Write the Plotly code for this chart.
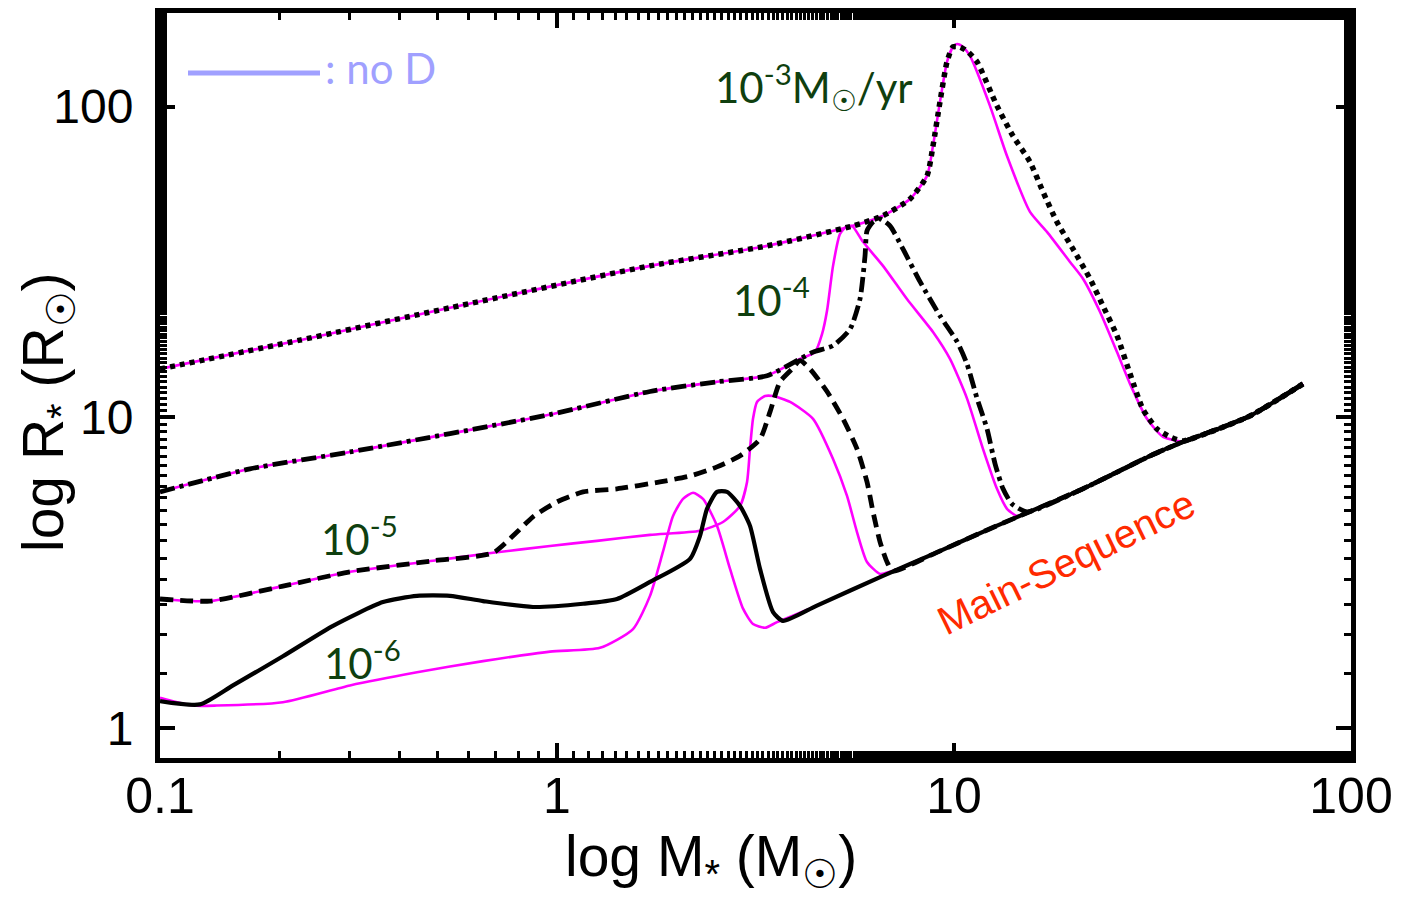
import math
import plotly.graph_objects as go

# ---------------- data ----------------
# Main-sequence (shared by all tracks)
ms_m = [3.65, 4.5, 6.6, 9.0, 12.8, 15.5, 21.1, 31.2, 37.7, 45.0, 55.7, 75.7]
ms_r = [2.21, 2.47, 3.08, 3.66, 4.47, 4.96, 5.88, 7.51, 8.33, 9.04, 10.1, 12.8]

# 1e-3 Msun/yr, with D (black dotted)
d3_m = [0.1, 0.225, 0.5375, 1.715, 3.381, 5.566, 6.625, 7.747, 8.551, 8.853, 9.219, 9.603,
        9.94, 10.35, 10.85, 11.43, 12.83, 14.08, 15.54, 16.76, 18.17, 19.94, 22.01, 23.73,
        25.74, 27.76, 29.92, 32.46, 35.01, 37.75]
d3_r = [14.3, 17.7, 22.5, 30.7, 35.6, 41.3, 44.5, 50.4, 59.8, 74.7, 103.5, 139.3,
        155.6, 155.6, 149.9, 139.3, 100.5, 80.4, 66.3, 53.1, 42.5, 34.8, 27.9, 22.8,
        18.3, 13.8, 10.6, 9.17, 8.64, 8.39]
# 1e-3, no D (magenta)
n3_m = [0.1, 0.225, 0.5375, 1.715, 3.381, 5.566, 6.625, 7.747, 8.551, 8.853, 9.219, 9.603,
        9.94, 10.18, 10.47, 10.97, 12.32, 13.60, 15.54, 17.15, 19.60, 21.13, 23.33, 25.74,
        27.76, 30.63, 33.61, 36.46]
n3_r = [14.3, 17.7, 22.5, 30.7, 35.6, 41.3, 44.5, 50.4, 59.8, 74.7, 103.5, 139.3,
        155.6, 159.0, 156.7, 145.5, 100.5, 69.3, 45.8, 39.5, 31.6, 27.9, 21.8, 16.2,
        12.8, 9.88, 8.64, 8.39]

# 1e-4, with D (black dash-dot)
d4_m = [0.1, 0.1685, 0.301, 0.96, 1.715, 2.529, 3.381, 4.094, 4.415, 4.958, 5.47, 5.797,
        5.968, 6.038, 6.252, 6.511, 6.9, 7.437, 8.212, 9.219, 10.18, 10.78, 11.43, 12.11,
        12.69, 13.29, 14.0, 15.27]
d4_r = [5.75, 6.82, 7.73, 10.2, 12.1, 13.0, 13.6, 15.4, 16.2, 17.0, 19.2, 24.0,
        33.0, 39.8, 42.5, 43.5, 41.3, 34.8, 27.3, 21.2, 17.5, 14.85, 11.5, 9.17,
        7.08, 5.88, 5.26, 4.96]
# 1e-4, no D
n4_m = [0.1, 0.1685, 0.301, 0.96, 1.715, 2.529, 3.381, 4.094, 4.466, 4.651, 4.788, 4.958,
        5.163, 5.346, 5.534, 5.899, 6.625, 7.612, 8.853, 9.77, 10.78, 11.83, 12.83, 13.60, 14.41]
n4_r = [5.75, 6.82, 7.73, 10.2, 12.1, 13.0, 13.6, 15.4, 16.2, 18.5, 22.0, 30.7,
        38.9, 41.0, 41.3, 36.7, 30.7, 24.0, 18.8, 15.4, 11.5, 7.91, 5.88, 5.07, 4.81]

# 1e-5, with D (black dashed)
d5_m = [0.1, 0.1336, 0.204, 0.301, 0.4871, 0.69, 0.7929, 0.8699, 1.0, 1.163, 1.416, 1.817,
        2.163, 2.529, 2.891, 3.246, 3.44, 3.646, 3.91, 4.094, 4.339, 4.788, 5.254, 5.697,
        6.038, 6.252, 6.511, 6.781, 7.022]
d5_r = [2.60, 2.56, 2.86, 3.18, 3.45, 3.66, 4.27, 4.78, 5.34, 5.75, 5.88, 6.19,
        6.47, 6.92, 7.51, 8.51, 10.4, 13.0, 14.3, 15.2, 14.3, 12.1, 9.88, 7.91,
        6.19, 4.96, 3.97, 3.42, 3.20]
# 1e-5, no D
n5_m = [0.1, 0.1336, 0.204, 0.301, 0.4871, 0.69, 0.96, 1.261, 1.715, 2.292, 2.619, 2.891,
        3.011, 3.063, 3.117, 3.19, 3.342, 3.501, 3.864, 4.415, 4.958, 5.377, 5.697, 6.038,
        6.511, 6.9]
n5_r = [2.60, 2.56, 2.86, 3.18, 3.45, 3.66, 3.85, 4.00, 4.18, 4.31, 4.60, 5.18,
        6.19, 7.91, 9.88, 11.2, 11.7, 11.7, 11.2, 9.88, 7.34, 5.58, 4.27, 3.42,
        3.13, 3.18]

# 1e-6, with D (black solid)
d6_m = [0.1, 0.126, 0.1527, 0.204, 0.2728, 0.3645, 0.444, 0.5375, 0.6512, 0.8699, 1.163,
        1.416, 1.715, 2.163, 2.292, 2.387, 2.529, 2.681, 2.891, 3.063, 3.246, 3.501, 3.71]
d6_r = [1.22, 1.19, 1.37, 1.70, 2.13, 2.54, 2.66, 2.66, 2.56, 2.45, 2.51,
        2.60, 2.95, 3.50, 4.15, 5.07, 5.75, 5.75, 5.18, 4.47, 3.25, 2.36, 2.21]
# 1e-6, no D
n6_m = [0.1, 0.121, 0.139, 0.204, 0.301, 0.444, 0.6512, 0.96, 1.283, 1.554, 1.715, 1.849,
        1.96, 2.077, 2.201, 2.332, 2.529, 2.728, 2.942, 3.117, 3.342, 3.583]
n6_r = [1.25, 1.18, 1.18, 1.21, 1.37, 1.51, 1.64, 1.76, 1.81, 2.08, 2.66, 3.69,
        4.81, 5.46, 5.71, 5.46, 4.47, 3.25, 2.42, 2.16, 2.10, 2.19]

x_tickvals = [0.1, 1, 10, 100]
x_ticktext = ["0.1", "1", "10", "100"]
y_tickvals = [1, 10, 100]
y_ticktext = ["1", "10", "100"]

rate_labels = ["10<sup>-3</sup>M<sub>☉</sub>/yr", "10<sup>-4</sup>", "10<sup>-5</sup>", "10<sup>-6</sup>"]


def with_ms(m, r):
    mm, rr = list(m), list(r)
    for a, b in zip(ms_m, ms_r):
        if a > mm[-1] * 1.02:
            mm.append(a)
            rr.append(b)
    return mm, rr


MAG = "#ff00ff"
fig = go.Figure()

# no-D tracks (magenta)
for m, r in [(n3_m, n3_r), (n4_m, n4_r), (n5_m, n5_r), (n6_m, n6_r)]:
    mm, rr = with_ms(m, r)
    fig.add_trace(go.Scatter(x=mm, y=rr, mode="lines",
                             line=dict(color=MAG, width=2.6, shape="spline", smoothing=0.6),
                             showlegend=False, hoverinfo="skip"))

# with-D tracks (black)
styles = [(d6_m, d6_r, "solid", 4.2),
          (d5_m, d5_r, "13px,7px", 4.8),
          (d4_m, d4_r, "15px,5px,4px,5px", 4.8),
          (d3_m, d3_r, "5px,5px", 5.5)]
for m, r, dash, w in styles:
    mm, rr = with_ms(m, r)
    fig.add_trace(go.Scatter(x=mm, y=rr, mode="lines",
                             line=dict(color="black", width=w, dash=dash, shape="spline", smoothing=0.6),
                             showlegend=False, hoverinfo="skip"))

# invisible trace on the mirror axes (so they get drawn)
fig.add_trace(go.Scatter(x=[1], y=[1], xaxis="x2", yaxis="y2", mode="markers",
                         marker=dict(opacity=0), showlegend=False, hoverinfo="skip"))

# plot area in pixels: x 160..1351, y 13..758
W, H = 1401, 899
L, R, T, B = 160, 1401 - 1351, 13, 899 - 758
pw, ph = W - L - R, H - T - B


def px(xp):
    return (xp - L) / pw


def py(yp):
    return (H - B - yp) / ph


GREEN = "#0f3f0f"
green_font = dict(family="Lato, 'Open Sans', sans-serif", size=42, color=GREEN)
label_pos = [(814, 86), (771, 297), (359, 536), (362, 660)]
for txt, (xp, yp) in zip(rate_labels, label_pos):
    fig.add_annotation(x=px(xp), y=py(yp), xref="paper", yref="paper", text=txt,
                       showarrow=False, xanchor="center", yanchor="middle", font=green_font)

fig.add_annotation(x=px(1066), y=py(562), xref="paper", yref="paper", text="Main-Sequence",
                   showarrow=False, textangle=-26, xanchor="center", yanchor="middle",
                   font=dict(family="Liberation Sans, Arial, sans-serif", size=40, color="#ff2a00"))

# "no D" key
LAV = "#a0a0ff"
fig.add_shape(type="line", xref="paper", yref="paper", x0=px(188), x1=px(320), y0=py(73), y1=py(73),
              line=dict(color=LAV, width=5))
fig.add_annotation(x=px(323), y=py(68), xref="paper", yref="paper", text=": no D", showarrow=False,
                   xanchor="left", yanchor="middle",
                   font=dict(family="Lato, 'Open Sans', sans-serif", size=42, color=LAV))

# axis titles
title_font = dict(family="Liberation Sans, Arial, sans-serif", size=57, color="black")
fig.add_annotation(x=px(711), y=py(860), xref="paper", yref="paper",
                   text="log M<sub>*</sub> (M<sub>☉</sub>)", showarrow=False,
                   xanchor="center", yanchor="middle", font=title_font)
fig.add_annotation(x=px(47), y=py(412), xref="paper", yref="paper",
                   text="log R<sub>*</sub> (R<sub>☉</sub>)", showarrow=False, textangle=-90,
                   xanchor="center", yanchor="middle", font=title_font)

minor = dict(ticks="inside", ticklen=7, tickwidth=3, tickcolor="black", showgrid=False)
axis_common = dict(type="log", showgrid=False, zeroline=False, showline=True, linewidth=5,
                   linecolor="black", mirror=True, ticks="inside", ticklen=15, tickwidth=3.5,
                   tickcolor="black", automargin=False, minor=minor)
xr = [-1, 2]
yr = [math.log10(0.8), math.log10(200)]

fig.update_layout(
    width=W, height=H, autosize=False,
    margin=dict(l=L, r=R, t=T, b=B, pad=0),
    paper_bgcolor="white", plot_bgcolor="white",
    font=dict(family="Liberation Sans, Arial, sans-serif", color="black"),
    xaxis=dict(**axis_common, range=xr, tickvals=x_tickvals, ticktext=x_ticktext,
               tickfont=dict(size=50), ticklabelstandoff=-10),
    yaxis=dict(**axis_common, range=yr, tickvals=y_tickvals,
               ticktext=y_ticktext, tickfont=dict(size=48), ticklabelstandoff=12),
    xaxis2=dict(type="log", range=xr, overlaying="x", side="top", anchor="y2", showgrid=False,
                zeroline=False, showline=False, ticks="inside", ticklen=15, tickwidth=3.5,
                tickcolor="black", tickvals=x_tickvals, showticklabels=False, automargin=False,
                minor=minor),
    yaxis2=dict(type="log", range=yr, overlaying="y", side="right", anchor="x2", showgrid=False,
                zeroline=False, showline=False, ticks="inside", ticklen=15, tickwidth=3.5,
                tickcolor="black", tickvals=y_tickvals, showticklabels=False, automargin=False,
                minor=minor),
)

fig.write_html("out.html")
